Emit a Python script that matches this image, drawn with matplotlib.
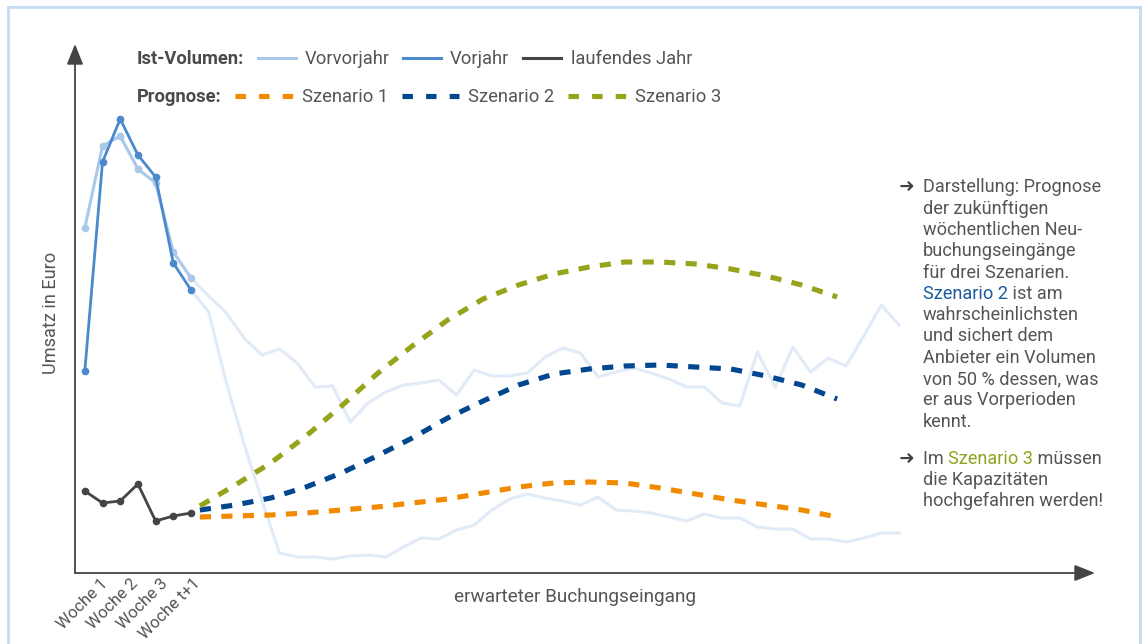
import matplotlib
matplotlib.use("Agg")
import matplotlib.pyplot as plt
from matplotlib.lines import Line2D

# ---------------- data (arbitrary Euro units) -------------
hist_weeks = [0, 1, 2, 3, 4, 5, 6]
vorvorjahr = [345, 427, 437, 404, 390, 321, 295]
vorjahr = [202, 411, 454, 418, 396, 310, 283]
laufendes_jahr = [82, 70, 72, 89, 52, 57, 60]

cont_weeks = list(range(6, 47))
vorvorjahr_later = [295, 277, 260, 235, 218, 224, 210, 186, 187, 151, 170, 181, 188, 190,
                    193, 178, 203, 197, 197, 200, 216, 225, 220, 196, 201, 205, 200, 194,
                    186, 186, 170, 167, 221, 186, 226, 201, 215, 207, 237, 268, 248]
vorjahr_later = [283, 261, 190, 129, 73, 20, 16, 16, 14, 17, 18, 16, 26, 35, 34, 43, 48,
                 63, 74, 79, 75, 72, 68, 76, 63, 62, 60, 56, 52, 59, 55, 55, 46, 44, 44,
                 34, 34, 31, 35, 40, 40]

scen_weeks = [6.5, 8.5, 10.5, 12.5, 14.5, 16.5, 18.5, 20.5, 22.5, 24.5, 26.5, 28.5,
              30.5, 32.5, 34.5, 36.5, 38.5, 40.5, 42.5]
szenario1 = [56, 57, 58, 60, 63, 66, 70, 74, 80, 86, 90, 91, 90, 85, 79, 73, 68, 63, 56]
szenario2 = [63, 68, 75, 86, 100, 117, 135, 155, 172, 188, 199, 204, 207, 208, 206, 204,
             197, 188, 174]
szenario3 = [67, 88, 110, 137, 167, 199, 227, 253, 274, 288, 299, 306, 311, 311, 309, 304,
             297, 288, 276]

tick_pos = [0.85, 2.55, 4.25, 6.1]
tick_labels = ["Woche 1", "Woche 2", "Woche 3", "Woche t+1"]

# ---------------- styling -------------
W, H = 1147, 644
C_VVJ = "#A9C8EA"
C_VJ = "#4A89CC"
C_LJ = "#454545"
C_FAINT = "#E0EBF7"
C_S1 = "#F28A00"
C_S2 = "#00478F"
C_S3 = "#97A41B"
C_TXT = "#555555"
C_AX = "#444444"
FONT = ["Roboto", "DejaVu Sans"]
plt.rcParams["font.family"] = FONT
plt.rcParams["lines.scale_dashes"] = False
DASH = (8, 7.5)


def P(x, y):
    return (x / W, 1 - y / H)


fig = plt.figure(figsize=(W / 100, H / 100), dpi=100)
fig.patch.set_facecolor("white")

# light blue frame (bottom edge outside the picture)
for xs, ys in [((8, 8), (7, 700)), ((8, 1140), (7, 7)), ((1140, 1140), (7, 700))]:
    fig.add_artist(Line2D([xs[0] / W, xs[1] / W], [1 - ys[0] / H, 1 - ys[1] / H],
                          transform=fig.transFigure, color="#C6DBF3", lw=2))

ax = fig.add_axes([75 / W, 1 - 573 / H, (1095 - 75) / W, (573 - 44) / H])
ax.set_xlim(-0.554, 57.07)
ax.set_ylim(0, 529)
for s in ax.spines.values():
    s.set_visible(False)
ax.set_yticks([])
ax.set_xticks(tick_pos)
ax.set_xticklabels(tick_labels, rotation=45, ha="right", va="top", rotation_mode="anchor",
                   fontsize=12, color=C_TXT)
ax.tick_params(axis="x", length=0, pad=2)

# arrows for axes
arrow_kw = dict(arrowstyle="-|>,head_length=1.25,head_width=0.5", color=C_AX, lw=1.3,
                shrinkA=0, shrinkB=0, mutation_scale=10)
ax.annotate("", xy=(1, 0), xytext=(0, 0), xycoords="axes fraction",
            textcoords="axes fraction", arrowprops=arrow_kw, annotation_clip=False)
ax.annotate("", xy=(0, 1), xytext=(0, 0), xycoords="axes fraction",
            textcoords="axes fraction", arrowprops=arrow_kw, annotation_clip=False)

fig.text(*P(50.5, 313), "Umsatz in Euro", fontsize=13.1, color=C_TXT, rotation=90,
         ha="center", va="center")
fig.text(*P(575.5, 597), "erwarteter Buchungseingang", fontsize=13.7, color=C_TXT,
         ha="center", va="center")

# faint continuations
ax.plot(cont_weeks, vorvorjahr_later, color=C_FAINT, lw=2.2, zorder=1)
ax.plot(cont_weeks, vorjahr_later, color=C_FAINT, lw=2.2, zorder=1)

# history
ax.plot(hist_weeks, vorvorjahr, color=C_VVJ, lw=2.2, marker="o", ms=4.5, zorder=3)
ax.plot(hist_weeks, vorjahr, color=C_VJ, lw=2.0, marker="o", ms=4.5, zorder=4)
ax.plot(hist_weeks, laufendes_jahr, color=C_LJ, lw=2.0, marker="o", ms=4.5, zorder=4)

# scenarios
for ys, c in [(szenario1, C_S1), (szenario2, C_S2), (szenario3, C_S3)]:
    ax.plot(scen_weeks, ys, color=c, lw=3.7, dashes=DASH, zorder=5, solid_capstyle="butt",
            dash_capstyle="butt")

# ---------------- legend (hand built) -------------
LFS = 13.2
fig.text(*P(136.7, 64.3), "Ist-Volumen:", fontsize=LFS, fontweight="bold", color="#4A4A4A",
         va="baseline")
fig.text(*P(136.7, 102), "Prognose:", fontsize=LFS, fontweight="bold", color="#4A4A4A",
         va="baseline")
row1 = [(258, 296, 305, C_VVJ, "Vorvorjahr"), (403, 441, 450, C_VJ, "Vorjahr"),
        (523, 561, 571, C_LJ, "laufendes Jahr")]
for x0, x1, xt, c, lab in row1:
    fig.add_artist(Line2D([x0 / W, x1 / W], [1 - 58 / H] * 2, transform=fig.transFigure,
                          color=c, lw=2.2))
    fig.text(*P(xt, 64.3), lab, fontsize=LFS, color=C_TXT, va="baseline")
row2 = [(235, 293, 302, C_S1, "Szenario 1"), (401.5, 459, 468, C_S2, "Szenario 2"),
        (568, 626, 635, C_S3, "Szenario 3")]
for x0, x1, xt, c, lab in row2:
    fig.add_artist(Line2D([x0 / W, x1 / W], [1 - 96 / H] * 2, transform=fig.transFigure,
                          color=c, lw=3.7, dashes=(7.5, 9.5), dash_capstyle="butt"))
    fig.text(*P(xt, 102), lab, fontsize=LFS, color=C_TXT, va="baseline")

# ---------------- annotation text on the right -------------
RFS = 13.1
x_txt = 922.7
lines1 = ["Darstellung: Prognose", "der zukünftigen", "wöchentlichen Neu-",
          "buchungseingänge", "für drei Szenarien.", None, "wahrscheinlichsten",
          "und sichert dem", "Anbieter ein Volumen", "von 50 % dessen, was",
          "er aus Vorperioden", "kennt."]
base = 192.3
step = 21.3
for k, ln in enumerate(lines1):
    y = base + k * step
    if ln is None:
        t = fig.text(*P(x_txt, y), "Szenario 2", fontsize=RFS, color="#1B5BA0",
                     va="baseline")
        fig.canvas.draw()
        ext = t.get_window_extent()
        fig.text(ext.x1 / W, 1 - y / H, " ist am", fontsize=RFS, color=C_TXT, va="baseline")
    else:
        fig.text(*P(x_txt, y), ln, fontsize=RFS, color=C_TXT, va="baseline")

fig.text(*P(899, 192.3), "➜", fontsize=13.5, color=C_AX, va="baseline",
         family=["DejaVu Sans"])
fig.text(*P(899, 464), "➜", fontsize=13.5, color=C_AX, va="baseline",
         family=["DejaVu Sans"])

y2 = 464
t1 = fig.text(*P(x_txt, y2), "Im ", fontsize=RFS, color=C_TXT, va="baseline")
fig.canvas.draw()
t2 = fig.text(t1.get_window_extent().x1 / W, 1 - y2 / H, "Szenario 3", fontsize=RFS,
              color="#8FA31E", va="baseline")
fig.canvas.draw()
fig.text(t2.get_window_extent().x1 / W, 1 - y2 / H, " müssen", fontsize=RFS, color=C_TXT,
         va="baseline")
for k, ln in enumerate(["die Kapazitäten", "hochgefahren werden!"], start=1):
    fig.text(*P(x_txt, y2 + k * 21.0), ln, fontsize=RFS, color=C_TXT, va="baseline")

fig.savefig("out.png", dpi=100)
